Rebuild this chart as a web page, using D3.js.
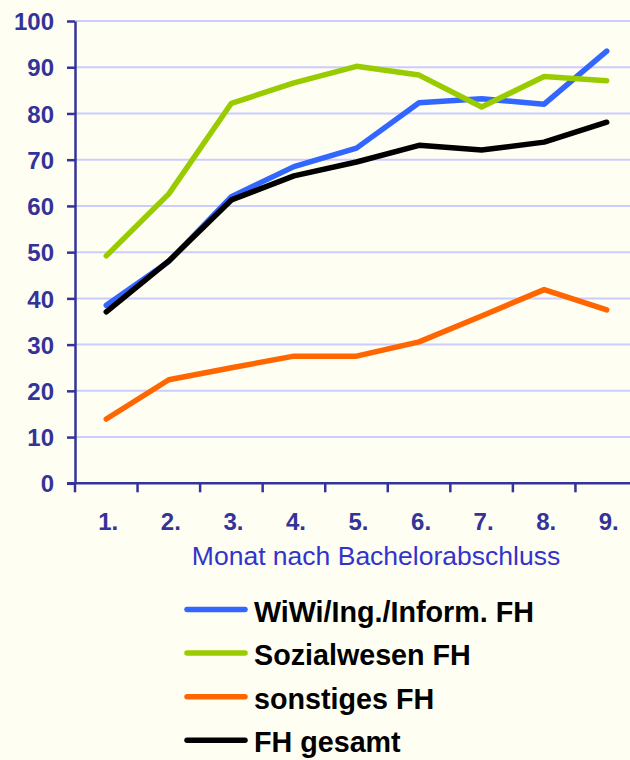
<!DOCTYPE html>
<html>
<head>
<meta charset="utf-8">
<script src="https://cdn.jsdelivr.net/npm/d3@7"></script>
<style>
  html, body { margin: 0; padding: 0; background: #fefef3; }
  svg { display: block; font-family: Arial, "Liberation Sans", sans-serif; }
</style>
</head>
<body>
<svg id="chart" width="630" height="760"></svg>
<script>
// data (percent)
const months = ['1.', '2.', '3.', '4.', '5.', '6.', '7.', '8.', '9.']
const yTicks = [0, 10, 20, 30, 40, 50, 60, 70, 80, 90, 100]
const seriesNames = ['WiWi/Ing./Inform. FH', 'Sozialwesen FH', 'sonstiges FH', 'FH gesamt']
const wiwi = [38.5, 48, 62, 68.5, 72.5, 82.3, 83.2, 82, 93.5]
const sozial = [49.2, 62.6, 82.2, 86.6, 90.2, 88.3, 81.4, 88, 87.1]
const sonstiges = [13.9, 22.4, 25, 27.5, 27.5, 30.6, 36.2, 41.9, 37.5]
const gesamt = [37.1, 48.1, 61.3, 66.5, 69.5, 73.1, 72.1, 73.8, 78.1]
const colors = ['#3366ff', '#99cc00', '#ff6600', '#000000']

const svg = d3.select('#chart')
const axisColor = '#333399'

const plot = {left: 75, right: 638, top: 21, bottom: 483.3}

const xBand = d3.scaleBand()
  .domain(months)
  .range([plot.left, plot.right])

const xPoint = d3.scalePoint()
  .domain(months)
  .range([plot.left, plot.right])
  .padding(0.5)

const yScale = d3.scaleLinear()
  .domain([0, 100])
  .range([plot.bottom, plot.top])

// gridlines
svg.append('g')
  .selectAll('line')
  .data(yTicks.filter(d => d > 0))
  .enter().append('line')
  .attr('x1', plot.left)
  .attr('x2', 630)
  .attr('y1', d => yScale(d))
  .attr('y2', d => yScale(d))
  .attr('stroke', '#ccccff')
  .attr('stroke-width', 2)

// y axis
const yAxis = d3.axisLeft(yScale)
  .tickValues(yTicks)
  .tickSize(8)
  .tickSizeOuter(0)
  .tickPadding(13)

const yAxisG = svg.append('g')
  .attr('transform', `translate(${plot.left},0)`)
  .call(yAxis)

yAxisG.selectAll('line, path')
  .attr('stroke', axisColor)
  .attr('stroke-width', 2.5)
yAxisG.selectAll('text')
  .attr('fill', axisColor)
  .attr('font-size', 24)
  .attr('font-weight', 'bold')
  .attr('font-family', 'Arial, "Liberation Sans", sans-serif')
  .attr('dy', '0.36em')

// x axis line + ticks at band edges
svg.append('line')
  .attr('x1', plot.left - 8)
  .attr('x2', 630)
  .attr('y1', plot.bottom)
  .attr('y2', plot.bottom)
  .attr('stroke', axisColor)
  .attr('stroke-width', 2.5)

svg.append('g')
  .selectAll('line')
  .data(months)
  .enter().append('line')
  .attr('x1', d => xBand(d))
  .attr('x2', d => xBand(d))
  .attr('y1', plot.bottom)
  .attr('y2', plot.bottom + 9)
  .attr('stroke', axisColor)
  .attr('stroke-width', 2.5)

svg.append('g')
  .selectAll('text')
  .data(months)
  .enter().append('text')
  .attr('x', d => xPoint(d) + 2)
  .attr('y', 530)
  .attr('text-anchor', 'middle')
  .attr('fill', axisColor)
  .attr('font-size', 24)
  .attr('font-weight', 'bold')
  .text(d => d)

svg.append('text')
  .attr('x', 376)
  .attr('y', 565)
  .attr('text-anchor', 'middle')
  .attr('fill', '#3333cc')
  .attr('font-size', 26.5)
  .text('Monat nach Bachelorabschluss')

// lines
const allSeries = [wiwi, sozial, sonstiges, gesamt]

const line = d3.line()
  .x((d, i) => xPoint(months[i]))
  .y(d => yScale(d))

svg.append('g')
  .selectAll('path')
  .data(allSeries)
  .enter().append('path')
  .attr('d', d => line(d))
  .attr('fill', 'none')
  .attr('stroke', (d, i) => colors[i])
  .attr('stroke-width', 5.5)
  .attr('stroke-linecap', 'round')
  .attr('stroke-linejoin', 'round')

// legend
const legend = svg.append('g')
  .selectAll('g')
  .data(seriesNames)
  .enter().append('g')
  .attr('transform', (d, i) => `translate(185, ${609.5 + i * 43.6})`)

legend.append('line')
  .attr('x1', 2)
  .attr('x2', 60)
  .attr('stroke', (d, i) => colors[i])
  .attr('stroke-width', 5.5)
  .attr('stroke-linecap', 'round')

legend.append('text')
  .attr('x', 69)
  .attr('y', 12)
  .attr('fill', '#000')
  .attr('font-size', 28.7)
  .attr('font-weight', 'bold')
  .text(d => d)
</script>
</body>
</html>
